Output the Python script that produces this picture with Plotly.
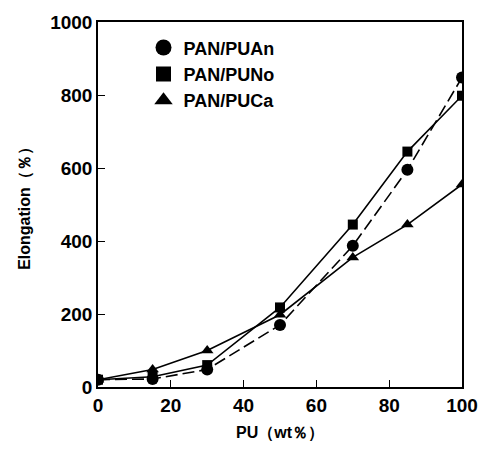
import plotly.graph_objects as go

pu = [0, 15, 30, 50, 70, 85, 100]
puan = [20, 22, 48, 170, 387, 595, 848]
puno = [20, 28, 60, 218, 445, 645, 798]
puca = [20, 48, 100, 198, 355, 445, 555]
names = ["PAN/PUAn", "PAN/PUNo", "PAN/PUCa"]
xticks = [0, 20, 40, 60, 80, 100]
yticks = [0, 200, 400, 600, 800, 1000]

FONT = "Liberation Sans Narrow, Arial Narrow, Liberation Sans, Arial, sans-serif"

fig = go.Figure()
series = [(puan, "circle", 12, "12px,5px"), (puno, "square", 10, "solid"), (puca, "triangle-up", 11, "solid")]
legsize = {"circle": 16, "square": 15, "triangle-up": 16}
for (ys, sym, sz, dash), nm in zip(series, names):
    fig.add_trace(go.Scatter(
        x=pu, y=ys, name=nm, mode="lines+markers", showlegend=False,
        line=dict(color="black", width=1.6, dash=dash),
        marker=dict(symbol=sym, size=sz, color="black"),
    ))
    fig.add_trace(go.Scatter(
        x=[None], y=[None], name=nm, mode="markers", showlegend=True,
        marker=dict(symbol=sym, size=legsize[sym], color="black"),
    ))

axis_common = dict(
    showline=True, linecolor="black", linewidth=1.5, mirror=True,
    ticks="inside", ticklen=7, tickcolor="black", tickwidth=1.2,
    showgrid=False, zeroline=False,
    tickfont=dict(family=FONT, size=19, color="black", weight="bold"),
)
fig.update_xaxes(range=[0, 100], tickvals=xticks, ticktext=[str(v) for v in xticks],
                 title=dict(text="PU（wt％）", font=dict(family=FONT, size=16, color="black", weight="bold"), standoff=12),
                 **axis_common)
fig.update_yaxes(range=[0, 1000], tickvals=yticks, ticktext=[str(v) for v in yticks],
                 title=dict(text="Elongation（％）", font=dict(family=FONT, size=16, color="black", weight="bold"), standoff=16),
                 **axis_common)

fig.update_layout(
    width=490, height=451,
    margin=dict(l=98, r=20, t=16, b=63),
    plot_bgcolor="white", paper_bgcolor="white",
    legend=dict(x=0.125, y=0.98, xanchor="left", yanchor="top",
                font=dict(family=FONT, size=18, color="black", weight="bold"),
                bgcolor="rgba(0,0,0,0)", itemsizing="trace", tracegroupgap=0),
    showlegend=True,
)
fig.write_html("out.html")
